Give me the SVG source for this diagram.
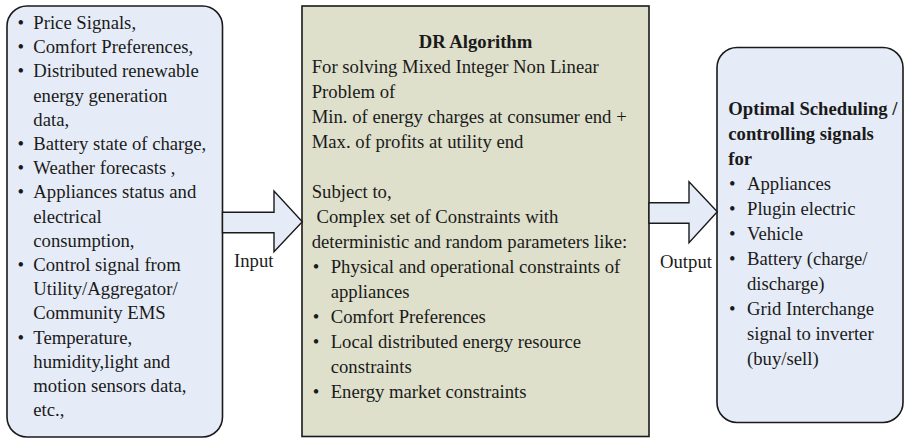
<svg xmlns="http://www.w3.org/2000/svg" width="905" height="439" viewBox="0 0 905 439">
<style>
text{font-family:"Liberation Serif","Times New Roman",serif;font-size:18.7px;fill:#1a1a1a}
.b{font-weight:bold}
.box{stroke:#1a1a1a;stroke-width:1.6}
.blue{fill:#e6ecf7}
.olive{fill:#dee0cb}
.arrow{fill:#e6ecf7;stroke:#1a1a1a;stroke-width:1.4;stroke-linejoin:miter}
</style>
<rect width="905" height="439" fill="#ffffff"/>
<g id="inputs">
<rect class="box blue" x="7" y="6" width="215.5" height="431" rx="20" ry="20"/>
<text x="17.4" y="29">•</text><text x="33.3" y="29">Price Signals,</text>
<text x="17.4" y="53.2">•</text><text x="33.3" y="53.2">Comfort Preferences,</text>
<text x="17.4" y="77.4">•</text><text x="33.3" y="77.4">Distributed renewable</text>
<text x="33.3" y="101.6">energy generation</text>
<text x="33.3" y="125.8">data,</text>
<text x="17.4" y="150">•</text><text x="33.3" y="150">Battery state of charge,</text>
<text x="17.4" y="174.2">•</text><text x="33.3" y="174.2">Weather forecasts ,</text>
<text x="17.4" y="198.4">•</text><text x="33.3" y="198.4">Appliances status and</text>
<text x="33.3" y="222.6">electrical</text>
<text x="33.3" y="246.8">consumption,</text>
<text x="17.4" y="271">•</text><text x="33.3" y="271">Control signal from</text>
<text x="33.3" y="295.2">Utility/Aggregator/</text>
<text x="33.3" y="319.4">Community EMS</text>
<text x="17.4" y="343.6">•</text><text x="33.3" y="343.6">Temperature,</text>
<text x="33.3" y="367.8">humidity,light and</text>
<text x="33.3" y="392">motion sensors data,</text>
<text x="33.3" y="416.2">etc.,</text>
</g>
<g id="algorithm">
<rect class="box olive" x="302" y="6" width="347" height="430.5"/>
<text class="b" x="475.5" y="48" text-anchor="middle">DR Algorithm</text>
<text x="311.7" y="73">For solving Mixed Integer Non Linear</text>
<text x="311.7" y="98">Problem of</text>
<text x="311.7" y="123">Min. of energy charges at consumer end +</text>
<text x="311.7" y="148">Max. of profits at utility end</text>
<text x="311.7" y="198">Subject to,</text>
<text x="316.5" y="223">Complex set of Constraints with</text>
<text x="311.7" y="248">deterministic and random parameters like:</text>
<text x="312.7" y="273">•</text><text x="330.7" y="273">Physical and operational constraints of</text>
<text x="330.7" y="298">appliances</text>
<text x="312.7" y="323">•</text><text x="330.7" y="323">Comfort Preferences</text>
<text x="312.7" y="348">•</text><text x="330.7" y="348">Local distributed energy resource</text>
<text x="330.7" y="373">constraints</text>
<text x="312.7" y="398">•</text><text x="330.7" y="398">Energy market constraints</text>
</g>
<g id="outputs">
<rect class="box blue" x="717" y="47.5" width="186" height="375" rx="20" ry="20"/>
<text class="b" x="728.3" y="115">Optimal Scheduling /</text>
<text class="b" x="728.3" y="140">controlling signals</text>
<text class="b" x="728.3" y="165">for</text>
<text x="729" y="190">•</text><text x="747" y="190">Appliances</text>
<text x="729" y="215">•</text><text x="747" y="215">Plugin electric</text>
<text x="729" y="240">•</text><text x="747" y="240">Vehicle</text>
<text x="729" y="265">•</text><text x="747" y="265">Battery (charge/</text>
<text x="747" y="290">discharge)</text>
<text x="729" y="315">•</text><text x="747" y="315">Grid Interchange</text>
<text x="747" y="340">signal to inverter</text>
<text x="747" y="365">(buy/sell)</text>
</g>
<g id="connectors">
<polygon class="arrow" points="222.5,212.3 274,212.3 274,191 302.3,221.7 274,251.7 274,232.7 222.5,232.7"/>
<text x="234" y="267">Input</text>
<polygon class="arrow" points="649,202.7 689,202.7 689,181.7 717.3,211.7 689,242.7 689,223.3 649,223.3"/>
<text x="660" y="268">Output</text>
</g>
</svg>
